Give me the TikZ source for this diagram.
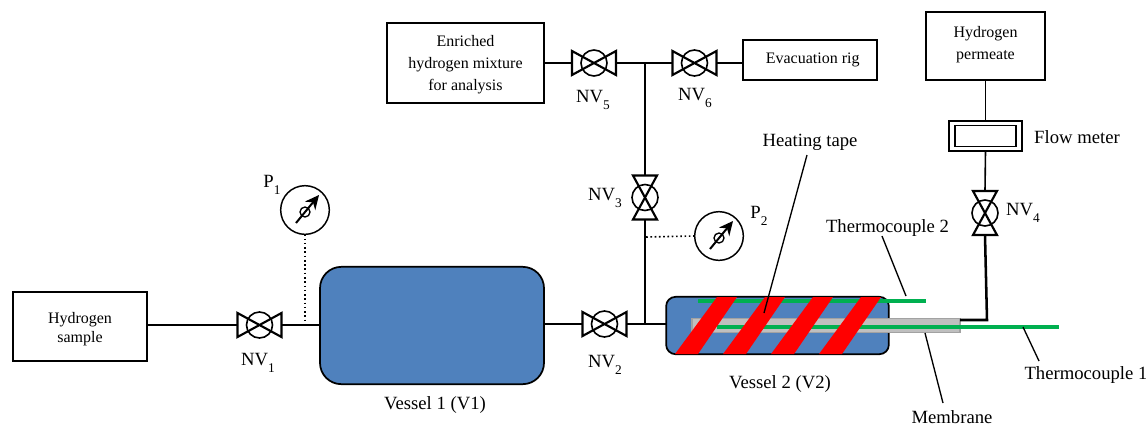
\documentclass[tikz,border=0pt]{standalone}
\usepackage{xcolor}
\usepackage{fontspec}
\setmainfont{Liberation Serif}
\usetikzlibrary{arrows.meta}
\definecolor{vesselblue}{HTML}{4F81BD}
\definecolor{tapered}{HTML}{FF0000}
\definecolor{tcgreen}{HTML}{00B050}
\definecolor{membgray}{HTML}{BFBFBF}
\newcommand{\lowidx}[1]{\raisebox{-0.75ex}{\fontsize{10}{10}\selectfont #1}}
\tikzset{
  pipe/.style={line width=1.2pt},
  sense/.style={line width=1.2pt, dotted},
  leader/.style={line width=1pt},
  unitbox/.style={draw, line width=1.1pt, align=center, inner sep=0pt, outer sep=0pt, font=\fontsize{12}{16.5}\selectfont},
  tag/.style={inner sep=0pt, font=\fontsize{14}{15}\selectfont},
  vessel/.style={draw, line width=1.3pt, fill=vesselblue, inner sep=0pt, outer sep=0pt},
  valvebox/.style={inner sep=0pt, outer sep=0pt, minimum width=33.75pt, minimum height=18.75pt},
  valveboxv/.style={inner sep=0pt, outer sep=0pt, minimum width=18.75pt, minimum height=33.75pt},
  dial/.style={draw, circle, line width=1.1pt, inner sep=0pt, outer sep=0pt, minimum size=36.5pt},
  valve/.pic={
    \draw[line width=1.6pt, line join=miter] (-22,-12) -- (22,12) -- (22,-12) -- (-22,12) -- cycle;
    \draw[line width=1.2pt] (0,0) circle (13);
  },
  needle/.pic={
    \draw[line width=1pt] (0,2) circle (5);
    \draw[line width=1.5pt, -{Stealth[length=10.5pt,width=10pt]}] (-9,13) -- (14,-15);
  }
}
\begin{document}
\begin{tikzpicture}[x=0.75pt,y=-0.75pt]
\useasboundingbox (0,0) rectangle (1146,426);

% Boxes
\node[unitbox, font=\fontsize{12}{14.5}\selectfont, minimum width=100.5pt, minimum height=51.75pt] (sample) at (80,326.5) {\rule{0pt}{12pt}Hydrogen\\sample};
\node[unitbox, minimum width=118pt, minimum height=60pt] (enriched) at (465.5,63) {\rule{0pt}{11pt}Enriched\\hydrogen mixture\\for analysis};
\node[unitbox, minimum width=100.5pt, minimum height=30pt] (evac) at (810,60) {\hspace{4pt}Evacuation rig};
\node[unitbox, minimum width=89pt, minimum height=51pt] (permeate) at (985.5,46) {Hydrogen\\permeate\rule[-5pt]{0pt}{0pt}};

% Vessels
\node[vessel, rounded corners=16pt, minimum width=168pt, minimum height=88pt] (v1) at (432,325.5) {};
\node[vessel, rounded corners=7pt, minimum width=167pt, minimum height=43pt] (v2) at (777.5,325.5) {};

% Membrane and thermocouples, tape goes on top
\node[draw=membgray!85!black, fill=membgray, line width=0.9pt, inner sep=0pt, outer sep=0pt, minimum width=201pt, minimum height=11pt] (memb) at (826,325.5) {};
\coordinate (tc2a) at (698,301);
\coordinate (tc2b) at (926,301);
\coordinate (tc1a) at (717,327);
\coordinate (tc1b) at (1059,327);
\draw[tcgreen, line width=3pt] (tc2a) -- (tc2b);
\draw[tcgreen, line width=2.7pt] (tc1a) -- (tc1b);
\foreach \xs in {675,723,771,819}
  \fill[tapered] (\xs,354) -- (\xs+23,354) -- (\xs+62,297) -- (\xs+42,297) -- cycle;

% Valves
\node[valvebox] (nv1) at (259.5,325) {};
\node[valvebox] (nv2) at (604.5,324) {};
\node[valveboxv] (nv3) at (645,197.5) {};
\node[valveboxv] (nv4) at (985,213) {};
\node[valvebox] (nv5) at (594,63) {};
\node[valvebox] (nv6) at (694.5,63) {};
\pic at (nv1) {valve};
\pic at (nv2) {valve};
\pic[rotate=90] at (nv3) {valve};
\pic[rotate=90] at (nv4) {valve};
\pic at (nv5) {valve};
\pic at (nv6) {valve};

% Flow meter
\node[draw, line width=0.8pt, inner sep=0pt, outer sep=0pt, minimum width=54.75pt, minimum height=22.5pt] (flow) at (985.5,136) {};
\node[draw, line width=0.9pt, inner sep=0pt, minimum width=45.75pt, minimum height=15.75pt] (flowin) at (flow) {};

% Gauges
\node[dial] (p1) at (305,210) {};
\node[dial] (p2) at (719,236) {};
\pic at (p1) {needle};
\pic at (p2) {needle};

% Pipes
\coordinate (teep1) at (305,324);
\coordinate (teep2) at (645,237);
\coordinate (tee3) at (645,323.5);
\coordinate (tee56) at (645,63);
\coordinate (bend4) at (987,320);
\draw[pipe] (sample.east |- nv1) -- (nv1.west);
\draw[pipe] (nv1.east) -- (v1.west |- nv1);
\draw[pipe] (v1.east |- nv2) -- (nv2.west);
\draw[pipe] (nv2.east) -- (v2.west |- nv2);
\draw[pipe] (tee3) -- (nv3.south);
\draw[pipe] (nv3.north) -- (tee56);
\draw[pipe] (enriched.east |- nv5) -- (nv5.west);
\draw[pipe] (nv5.east) -- (nv6.west);
\draw[pipe] (nv6.east) -- (evac.west |- nv6);
\draw[pipe] (permeate.south) -- (flow.north);
\draw[pipe] (flow.south) -- (nv4.north);
\draw[line width=1.9pt] (nv4.south) -- (bend4) -- (memb.east |- bend4);
\draw[sense] (p1.south) -- (teep1);
\draw[sense] (p2.west) -- (teep2);

% Labels
\node[tag] (lnv1) at (258,363) {NV\lowidx{1}};
\node[tag] (lnv2) at (605,365) {NV\lowidx{2}};
\node[tag] (lnv3) at (605,198) {NV\lowidx{3}};
\node[tag] (lnv4) at (1023,213) {NV\lowidx{4}};
\node[tag] (lnv5) at (593,100) {NV\lowidx{5}};
\node[tag] (lnv6) at (695,98) {NV\lowidx{6}};
\node[tag] (lp1) at (272,185) {P\lowidx{1}};
\node[tag] (lp2) at (759,216) {P\lowidx{2}};
\node[tag] (lv1) at (435,405) {Vessel 1 (V1)};
\node[tag] (lv2) at (780,384) {Vessel 2 (V2)};
\node[tag] (lflow) at (1077,137) {Flow meter};
\node[tag] (ltape) at (810,142) {Heating tape};
\node[tag] (ltc2) at (887.5,228) {Thermocouple 2};
\node[tag] (ltc1) at (1086,375) {Thermocouple 1};
\node[tag] (lmemb) at (952,417.5) {Membrane};

% Leaders
\coordinate (ptape) at (764,313);
\coordinate (qtape) at (807,155);
\coordinate (ptc2) at (906,296);
\coordinate (qtc2) at (882,236);
\coordinate (pmemb) at (925,333);
\coordinate (qmemb) at (943,403);
\coordinate (ptc1) at (1023,327);
\coordinate (qtc1) at (1039,361);
\draw[leader] (qtape) -- (ptape);
\draw[leader] (qtc2) -- (ptc2);
\draw[leader] (qmemb) -- (pmemb);
\draw[leader] (qtc1) -- (ptc1);
\end{tikzpicture}
\end{document}
